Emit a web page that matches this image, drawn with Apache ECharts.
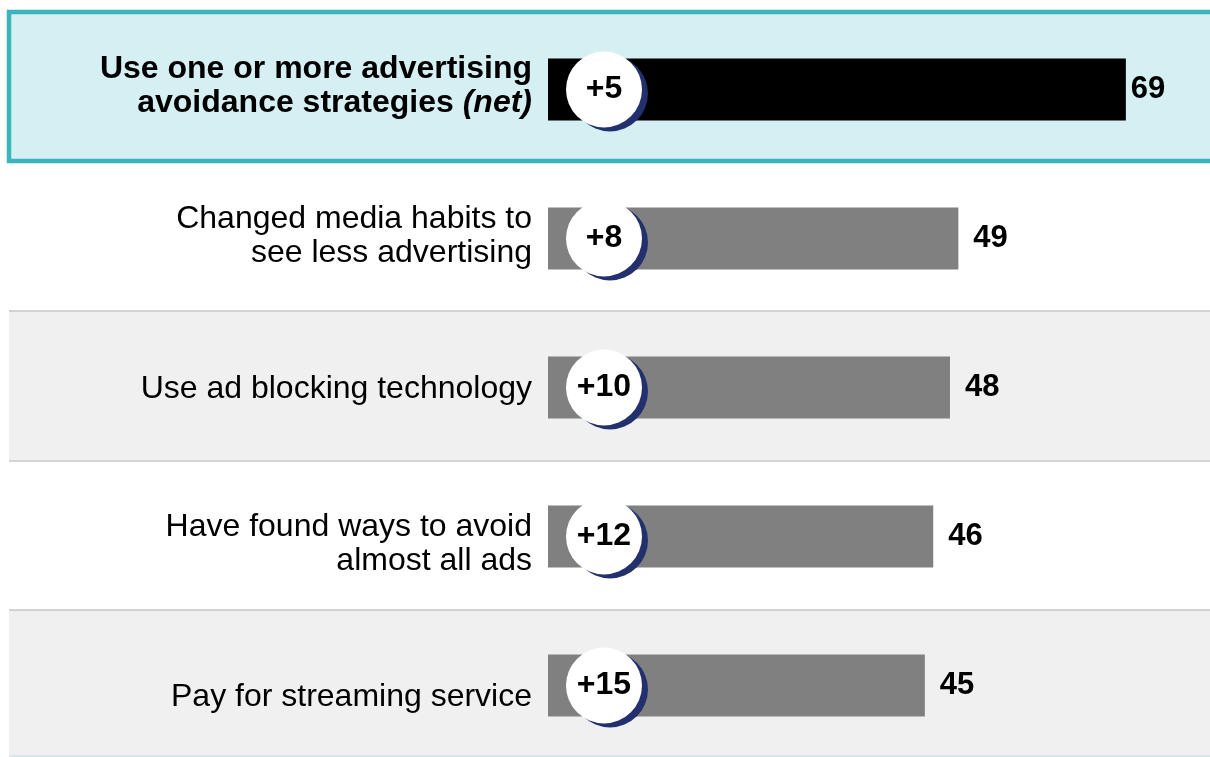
<!DOCTYPE html>
<html>
<head>
<meta charset="utf-8">
<script src="https://cdn.jsdelivr.net/npm/echarts@6/dist/echarts.min.js"></script>
<style>
  html, body { margin: 0; padding: 0; background: #ffffff; }
  #chart { width: 1210px; height: 757px; }
</style>
</head>
<body>
<div id="chart"></div>
<script>
// ---- data ----
const categories = [
  'Use one or more advertising\navoidance strategies (net)',
  'Changed media habits to\nsee less advertising',
  'Use ad blocking technology',
  'Have found ways to avoid\nalmost all ads',
  'Pay for streaming service'
];
const values = [69, 49, 48, 46, 45];
const changes = ['+5', '+8', '+10', '+12', '+15'];

// ---- layout / style constants ----
const FONT = '"Liberation Sans", Arial, sans-serif';
const labelNudge = [-3, -2, 2, 8, 12];   // vertical nudge of category labels (px)
const barColors = ['#000000', '#808080', '#808080', '#808080', '#808080'];
const valueLabelGap = [5, 15, 15, 15, 15];

const chart = echarts.init(document.getElementById('chart'), null, { renderer: 'canvas' });

const yData = categories.map((c, i) => {
  const n = labelNudge[i];
  const pad = n >= 0 ? [2 * n, 0, 0, 0] : [0, 0, -2 * n, 0];
  return { value: c, textStyle: { padding: pad } };
});

const option = {
  animation: false,
  backgroundColor: '#ffffff',
  graphic: [
    { type: 'rect', z: -10, shape: { x: 9, y: 12, width: 1215, height: 149 },
      style: { fill: '#d5eff3', stroke: '#3cb5ba', lineWidth: 4.5 } },
    { type: 'rect', z: -10, shape: { x: 9, y: 311, width: 1201, height: 149 },
      style: { fill: '#f0f0f0' } },
    { type: 'rect', z: -10, shape: { x: 9, y: 610, width: 1201, height: 147 },
      style: { fill: '#f0f0f0' } },
    { type: 'line', z: -9, shape: { x1: 9, y1: 311, x2: 1210, y2: 311 },
      style: { stroke: '#c6c6c6', lineWidth: 1.5 } },
    { type: 'line', z: -9, shape: { x1: 9, y1: 461, x2: 1210, y2: 461 },
      style: { stroke: '#c6c6c6', lineWidth: 1.5 } },
    { type: 'line', z: -9, shape: { x1: 9, y1: 610, x2: 1210, y2: 610 },
      style: { stroke: '#c6c6c6', lineWidth: 1.5 } },
    { type: 'line', z: -9, shape: { x1: 9, y1: 756, x2: 1210, y2: 756 },
      style: { stroke: '#cfe5e7', lineWidth: 1.5 } }
  ],
  grid: { left: 548, top: 15, width: 661.6, height: 745, containLabel: false, outerBoundsMode: 'none' },
  xAxis: {
    type: 'value', min: 0, max: 79, show: false
  },
  yAxis: {
    type: 'category',
    inverse: true,
    data: yData,
    axisLine: { show: false },
    axisTick: { show: false },
    splitLine: { show: false },
    axisLabel: {
      margin: 16,
      color: '#000000',
      fontFamily: FONT,
      fontSize: 32,
      lineHeight: 34,
      align: 'right',
      formatter: function (val, idx) {
        if (idx === 0) {
          return val.split('\n').map(function (line) {
            if (line.indexOf('(net)') >= 0) {
              return '{b|' + line.replace('(net)', '') + '}{bi|(net)}';
            }
            return '{b|' + line + '}';
          }).join('\n');
        }
        return val;
      },
      rich: {
        b: { fontFamily: FONT, fontSize: 32, lineHeight: 34, fontWeight: 'bold', color: '#000' },
        bi: { fontFamily: FONT, fontSize: 32, lineHeight: 34, fontWeight: 'bold', fontStyle: 'italic', color: '#000' }
      }
    }
  },
  series: [
    {
      type: 'bar',
      barWidth: 62,
      barGap: '-100%',
      silent: true,
      data: values.map((v, i) => ({
        value: v,
        itemStyle: { color: barColors[i] },
        label: { distance: valueLabelGap[i] }
      })),
      label: {
        show: true,
        position: 'right',
        color: '#000',
        fontFamily: FONT,
        fontSize: 31,
        fontWeight: 'bold'
      }
    },
    {
      type: 'bar',
      barWidth: 62,
      barGap: '-100%',
      silent: true,
      z: 5,
      itemStyle: { color: 'rgba(0,0,0,0)' },
      data: values,
      label: {
        show: true,
        position: 'insideLeft',
        distance: 0,
        offset: [56, 0],
        formatter: function (p) { return changes[p.dataIndex]; },
        color: '#000',
        fontFamily: FONT,
        fontSize: 32,
        fontWeight: 'bold',
        width: 76,
        height: 76,
        lineHeight: 76,
        align: 'center',
        verticalAlign: 'middle',
        backgroundColor: '#ffffff',
        borderRadius: 38,
        shadowColor: '#23306e',
        shadowBlur: 0,
        shadowOffsetX: 6,
        shadowOffsetY: 4
      }
    }
  ]
};

chart.setOption(option);
</script>
</body>
</html>
